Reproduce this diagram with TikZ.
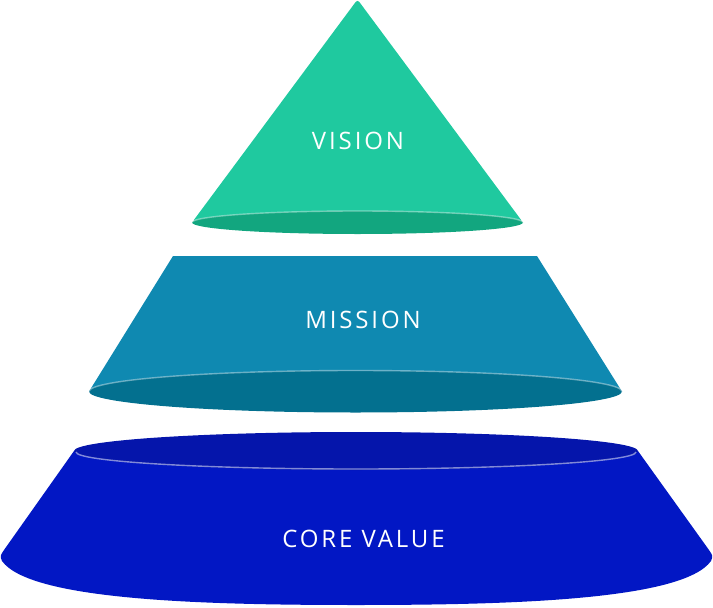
\documentclass[tikz,border=0pt]{standalone}
\usepackage{fontspec}
\newfontfamily\labfont[LetterSpace=12]{Open Sans}
\definecolor{visc}{HTML}{1FC99F}
\definecolor{visd}{HTML}{12A67F}
\definecolor{misc}{HTML}{0F89B1}
\definecolor{misd}{HTML}{03708F}
\definecolor{corc}{HTML}{0217C4}
\definecolor{cord}{HTML}{0515AB}
\tikzset{
  lab/.style={text=white, font=\labfont\fontsize{24}{28}\selectfont, anchor=base, inner sep=0pt},
  hl/.style={draw=white, draw opacity=0.4, line width=1.4pt},
}
\begin{document}
\begin{tikzpicture}[x=1pt,y=-1pt]
\useasboundingbox (0,0) rectangle (713,608);
% VISION
\fill[visc, rounded corners=3pt] (192,222.5) -- (357.5,-0.5) -- (523,222.5) -- cycle;
\fill[visd] (357.5,222.5) ellipse [x radius=165.5, y radius=11.5];
\draw[hl] (192,222.5) arc[start angle=180, end angle=0, x radius=165.5, y radius=-11.5];
\node[lab] (vision) at (358,149.3) {VISION};
% MISSION
\fill[misc] (89,391.5) -- (173,256) -- (537,256) -- (622,391.5) -- cycle;
\fill[misd] (355.5,391.5) ellipse [x radius=266.5, y radius=21];
\draw[hl] (89,391.5) arc[start angle=180, end angle=0, x radius=266.5, y radius=-21];
\node[lab] (mission) at (363,328) {MISSION};
% CORE VALUE
\fill[corc] (74,451) -- (4,550) .. controls (0,556) .. (2,561)
  .. controls (30,600) and (200,605) .. (356,605)
  .. controls (512,605) and (683,600) .. (711,561)
  .. controls (713,556) .. (709,550) -- (638,451) -- cycle;
\fill[cord] (356,451) ellipse [x radius=282, y radius=19];
\draw[hl, draw opacity=0.5] (76,452) arc[start angle=180, end angle=360, x radius=280, y radius=-17];
\node[lab] (core) at (363.5,547) {CORE VALUE};
\end{tikzpicture}
\end{document}
